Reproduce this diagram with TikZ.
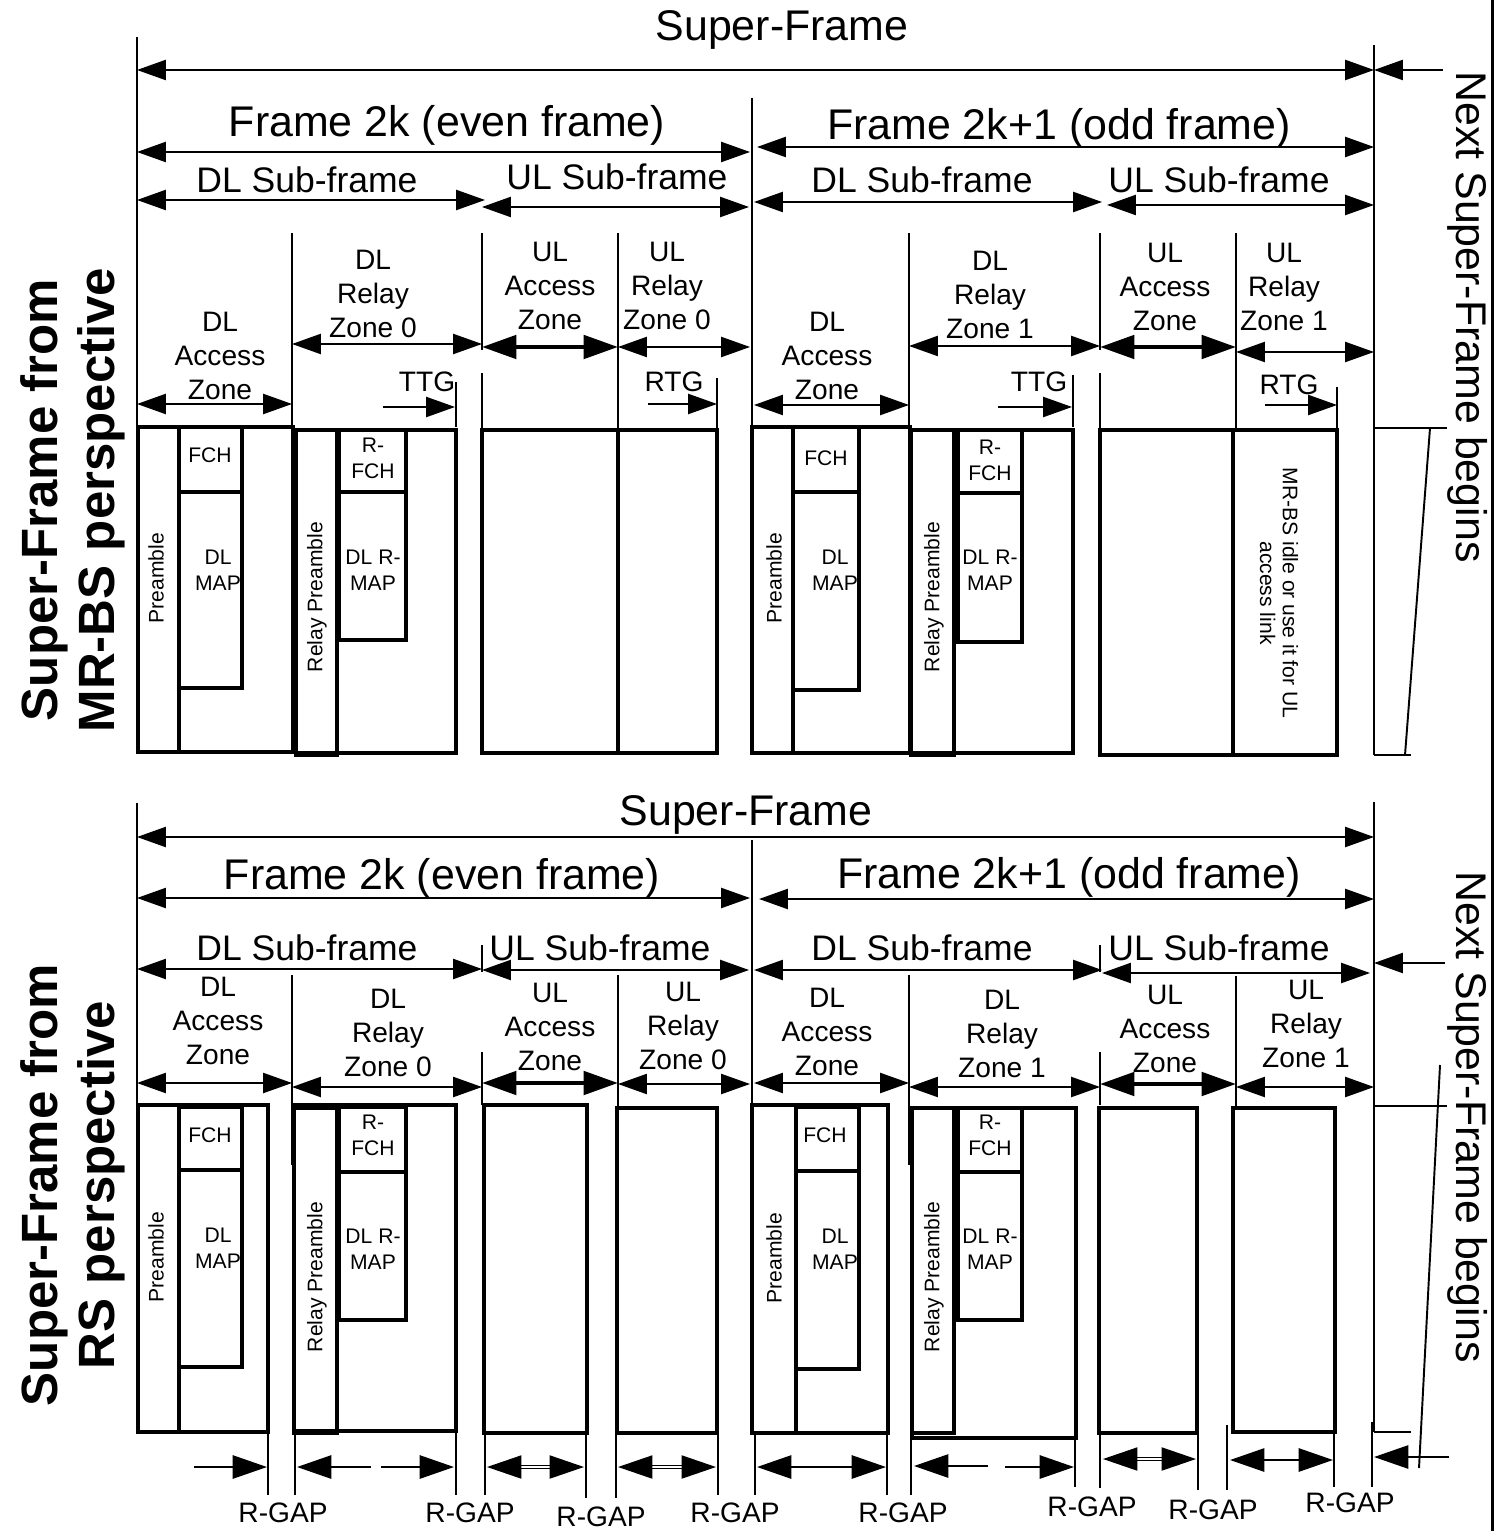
\documentclass[tikz,border=0pt]{standalone}
\usepackage{fontspec}
\setmainfont{Liberation Sans}
\usetikzlibrary{arrows.meta}

\begin{document}
\begin{tikzpicture}[x=0.01cm,y=-0.01cm,line cap=butt,
  >={Triangle[length=8.2pt,width=5.7pt]},
  rule/.style={line width=0.55pt},
  frm/.style={line width=1.25pt},
  span/.style={line width=0.55pt},
  bigspan/.style={line width=1.3pt,>={Triangle[length=9.8pt,width=6.6pt]}},
  gapspan/.style={line width=0.7pt,>={Triangle[length=9.8pt,width=6.6pt]}},
  dblspan/.style={gapspan,double,double distance=0.6pt,line width=0.4pt},
  txtbig/.style={inner sep=0pt,font=\fontsize{12.2}{14}\selectfont},
  txtsub/.style={inner sep=0pt,font=\fontsize{10.1}{12}\selectfont},
  txtzone/.style={inner sep=0pt,align=center,font=\fontsize{8}{9.6}\selectfont},
  txtbox/.style={inner sep=0pt,align=center,font=\fontsize{6}{7.4}\selectfont},
  txtside/.style={inner sep=0pt,align=center,rotate=90,font=\fontsize{14.5}{16.3}\selectfont\bfseries}]
\useasboundingbox (0,0) rectangle (1497,1531);
\draw[line width=0.85pt] (1492,0) -- (1492,1531);

% MR-BS perspective
\draw[rule] (137,37) -- (137,752);
\draw[rule] (752,98) -- (752,427);
\draw[rule] (1374,45) -- (1374,755);
\foreach \x in {292,618,909,1236} \draw[rule] (\x,233) -- (\x,429);
\foreach \x in {482,1100} {\draw[rule] (\x,233) -- (\x,350); \draw[rule] (\x,373) -- (\x,430);}
\draw[rule] (456,382) -- (456,427);
\draw[rule] (717,378) -- (717,430);
\draw[rule] (1073,375) -- (1073,427);
\draw[rule] (1337,387) -- (1337,430);

\draw[span,<->] (137,70) -- (1374,70);
\draw[span,->] (1443,70) -- (1374,70);
\draw[span,<->] (137,152) -- (750,152);
\draw[span,<->] (757,147) -- (1374,147);
\draw[span,<->] (137,200) -- (485,200);
\draw[span,<->] (482,207) -- (749,207);
\draw[span,<->] (754,202) -- (1102,202);
\draw[span,<->] (1107,205) -- (1374,205);
\draw[span,<->] (137,404) -- (292,404);
\draw[span,<->] (292,344) -- (482,344);
\draw[bigspan,<->] (482,347) -- (618,347);
\draw[span,<->] (618,347) -- (750,347);
\draw[span,<->] (754,405) -- (909,405);
\draw[span,<->] (909,346) -- (1100,346);
\draw[bigspan,<->] (1100,347) -- (1236,347);
\draw[span,<->] (1236,352) -- (1374,352);
\draw[span,->] (383,407) -- (455,407);
\draw[span,->] (648,404) -- (717,404);
\draw[span,->] (998,407) -- (1072,407);
\draw[span,->] (1265,405) -- (1337,405);

\node[txtbig] (supA) at (782,30) {Super-Frame};
\node[txtbig] (evenA) at (447,125) {Frame 2k (even frame)};
\node[txtbig] (oddA) at (1059,128) {Frame 2k+1 (odd frame)};
\node[txtbig,rotate=-90] (nextA) at (1468,317) {Next Super-Frame begins};
\node[txtsub] (dlsubA0) at (307,180) {DL Sub-frame};
\node[txtsub] (ulsubA0) at (617,177) {UL Sub-frame};
\node[txtsub] (dlsubA1) at (922,180) {DL Sub-frame};
\node[txtsub] (ulsubA1) at (1219,180) {UL Sub-frame};
\node[txtzone] (dlaccA0) at (220,356) {DL\\Access\\Zone};
\node[txtzone] (dlrelA0) at (373,294) {DL\\Relay\\Zone 0};
\node[txtzone] (ulaccA0) at (550,286) {UL\\Access\\Zone};
\node[txtzone] (ulrelA0) at (667,286) {UL\\Relay\\Zone 0};
\node[txtzone] (dlaccA1) at (827,356) {DL\\Access\\Zone};
\node[txtzone] (dlrelA1) at (990,295) {DL\\Relay\\Zone 1};
\node[txtzone] (ulaccA1) at (1165,287) {UL\\Access\\Zone};
\node[txtzone] (ulrelA1) at (1284,287) {UL\\Relay\\Zone 1};
\node[txtzone] (ttgA0) at (427,382) {TTG};
\node[txtzone] (rtgA0) at (674,382) {RTG};
\node[txtzone] (ttgA1) at (1039,382) {TTG};
\node[txtzone] (rtgA1) at (1289,385) {RTG};
\node[txtside] (sideA) at (73,500) {Super-Frame from\\MR-BS perspective};

\draw[frm] (138,427) rectangle (293,752);
\draw[frm] (179,427) -- (179,752);
\draw[frm] (179,427) rectangle (242,492);
\draw[frm] (179,492) rectangle (242,688);
\draw[frm] (296,430) rectangle (456,753);
\draw[frm] (296,430) rectangle (337,755);
\draw[frm] (339,430) rectangle (406,492);
\draw[frm] (339,492) rectangle (406,640);
\draw[frm] (482,430) rectangle (618,753);
\draw[frm] (618,430) rectangle (717,753);
\draw[frm] (752,427) rectangle (910,753);
\draw[frm] (793,427) -- (793,753);
\draw[frm] (793,427) rectangle (859,492);
\draw[frm] (793,492) rectangle (859,690);
\draw[frm] (911,430) rectangle (1073,753);
\draw[frm] (911,430) rectangle (954,755);
\draw[frm] (958,430) rectangle (1022,493);
\draw[frm] (958,493) rectangle (1022,642);
\draw[frm] (1100,430) rectangle (1233,755);
\draw[frm] (1233,430) rectangle (1337,755);
\draw[rule] (1374,428) -- (1447,428);
\draw[rule] (1430,428) -- (1405,755);
\draw[rule] (1374,755) -- (1411,755);

\node[txtbox,rotate=90] (preA0) at (156,578) {Preamble};
\node[txtbox] (fchA0) at (210,455) {FCH};
\node[txtbox] (mapA0) at (218,570) {DL\\MAP};
\node[txtbox,rotate=90] (rpreA0) at (317,597) {Relay Preamble};
\node[txtbox] (rfchA0) at (373,458) {R-\\FCH};
\node[txtbox] (rmapA0) at (373,570) {DL R-\\MAP};
\node[txtbox,rotate=90] (preA1) at (774,578) {Preamble};
\node[txtbox] (fchA1) at (826,458) {FCH};
\node[txtbox] (mapA1) at (835,570) {DL\\MAP};
\node[txtbox,rotate=90] (rpreA1) at (934,597) {Relay Preamble};
\node[txtbox] (rfchA1) at (990,460) {R-\\FCH};
\node[txtbox] (rmapA1) at (990,570) {DL R-\\MAP};
\node[txtbox,rotate=-90,font=\fontsize{6}{6.5}\selectfont] (idleA) at (1279,593) {MR-BS idle or use it for UL\\access link};

% RS perspective
\draw[rule] (137,803) -- (137,1432);
\draw[rule] (752,840) -- (752,1105);
\draw[rule] (1374,802) -- (1374,1432);
\foreach \x in {292,618,909} \draw[rule] (\x,975) -- (\x,1165);
\draw[rule] (1236,976) -- (1236,1108);
\foreach \x in {482,1100} {\draw[rule] (\x,945) -- (\x,972); \draw[rule] (\x,1052) -- (\x,1105);}

\draw[span,<->] (137,837) -- (1374,837);
\draw[span,<->] (137,898) -- (750,898);
\draw[span,<->] (759,899) -- (1374,899);
\draw[span,<->] (137,969) -- (482,969);
\draw[span,<->] (482,970) -- (749,970);
\draw[span,<->] (754,970) -- (1102,970);
\draw[span,<->] (1102,973) -- (1370,973);
\draw[span,->] (1445,963) -- (1374,963);
\draw[span,<->] (137,1083) -- (292,1083);
\draw[span,<->] (292,1087) -- (482,1087);
\draw[bigspan,<->] (482,1083) -- (618,1083);
\draw[span,<->] (618,1084) -- (750,1084);
\draw[span,<->] (754,1083) -- (909,1083);
\draw[span,<->] (909,1087) -- (1100,1087);
\draw[bigspan,<->] (1100,1084) -- (1236,1084);
\draw[span,<->] (1236,1087) -- (1374,1087);

\node[txtbig] (supB) at (746,815) {Super-Frame};
\node[txtbig] (evenB) at (442,878) {Frame 2k (even frame)};
\node[txtbig] (oddB) at (1069,877) {Frame 2k+1 (odd frame)};
\node[txtbig,rotate=-90] (nextB) at (1468,1117) {Next Super-Frame begins};
\node[txtsub] (dlsubB0) at (307,948) {DL Sub-frame};
\node[txtsub] (ulsubB0) at (600,948) {UL Sub-frame};
\node[txtsub] (dlsubB1) at (922,948) {DL Sub-frame};
\node[txtsub] (ulsubB1) at (1219,948) {UL Sub-frame};
\node[txtzone] (dlaccB0) at (218,1021) {DL\\Access\\Zone};
\node[txtzone] (dlrelB0) at (388,1033) {DL\\Relay\\Zone 0};
\node[txtzone] (ulaccB0) at (550,1027) {UL\\Access\\Zone};
\node[txtzone] (ulrelB0) at (683,1026) {UL\\Relay\\Zone 0};
\node[txtzone] (dlaccB1) at (827,1032) {DL\\Access\\Zone};
\node[txtzone] (dlrelB1) at (1002,1034) {DL\\Relay\\Zone 1};
\node[txtzone] (ulaccB1) at (1165,1029) {UL\\Access\\Zone};
\node[txtzone] (ulrelB1) at (1306,1024) {UL\\Relay\\Zone 1};
\node[txtside] (sideB) at (73,1185) {Super-Frame from\\RS perspective};

\draw[frm] (138,1105) rectangle (268,1432);
\draw[frm] (179,1105) -- (179,1432);
\draw[frm] (179,1107) rectangle (242,1170);
\draw[frm] (179,1170) rectangle (242,1367);
\draw[frm] (294,1105) rectangle (456,1431);
\draw[frm] (294,1108) rectangle (337,1433);
\draw[frm] (339,1107) rectangle (406,1172);
\draw[frm] (339,1172) rectangle (406,1320);
\draw[frm] (484,1105) rectangle (587,1433);
\draw[frm] (617,1108) rectangle (717,1433);
\draw[frm] (752,1105) rectangle (888,1433);
\draw[frm] (796,1105) -- (796,1433);
\draw[frm] (796,1107) rectangle (859,1171);
\draw[frm] (796,1171) rectangle (859,1369);
\draw[frm] (912,1108) rectangle (1076,1438);
\draw[frm] (912,1108) rectangle (954,1433);
\draw[frm] (958,1108) rectangle (1022,1172);
\draw[frm] (958,1172) rectangle (1022,1320);
\draw[frm] (1099,1108) rectangle (1197,1433);
\draw[frm] (1233,1108) rectangle (1335,1432);
\draw[rule] (1374,1106) -- (1447,1106);
\draw[rule] (1374,1432) -- (1411,1432);
\draw[rule] (1440,1065) -- (1419,1468);

\node[txtbox,rotate=90] (preB0) at (156,1257) {Preamble};
\node[txtbox] (fchB0) at (210,1135) {FCH};
\node[txtbox] (mapB0) at (218,1248) {DL\\MAP};
\node[txtbox,rotate=90] (rpreB0) at (317,1277) {Relay Preamble};
\node[txtbox] (rfchB0) at (373,1135) {R-\\FCH};
\node[txtbox] (rmapB0) at (373,1249) {DL R-\\MAP};
\node[txtbox,rotate=90] (preB1) at (774,1258) {Preamble};
\node[txtbox] (fchB1) at (825,1135) {FCH};
\node[txtbox] (mapB1) at (835,1249) {DL\\MAP};
\node[txtbox,rotate=90] (rpreB1) at (934,1277) {Relay Preamble};
\node[txtbox] (rfchB1) at (990,1135) {R-\\FCH};
\node[txtbox] (rmapB1) at (990,1249) {DL R-\\MAP};

\foreach \x/\a/\b in {268/1432/1495,295/1432/1495,456/1432/1495,485/1433/1495,586/1433/1498,
  616/1433/1498,718/1433/1495,755/1433/1495,887/1433/1495,911/1438/1495,1075/1438/1487,
  1100/1433/1488,1198/1433/1490,1227/1425/1490,1334/1433/1487,1372/1422/1487}
  \draw[rule] (\x,\a) -- (\x,\b);
\draw[gapspan,->] (194,1467) -- (267,1467);
\draw[gapspan,->] (371,1467) -- (297,1467);
\draw[gapspan,->] (381,1467) -- (454,1467);
\draw[dblspan,<->] (487,1467) -- (584,1467);
\draw[dblspan,<->] (618,1467) -- (716,1467);
\draw[gapspan,<->] (757,1467) -- (886,1467);
\draw[gapspan,->] (988,1466) -- (914,1466);
\draw[gapspan,->] (1005,1467) -- (1074,1467);
\draw[dblspan,<->] (1103,1459) -- (1196,1459);
\draw[gapspan,<->] (1230,1460) -- (1333,1460);
\draw[gapspan,->] (1449,1457) -- (1374,1457);

\foreach \x/\y [count=\i] in {283/1513,470/1513,601/1517,735/1513,903/1513,1092/1507,1213/1510,1350/1503}
  \node[txtzone] (gap\i) at (\x,\y) {R-GAP};
\end{tikzpicture}
\end{document}
